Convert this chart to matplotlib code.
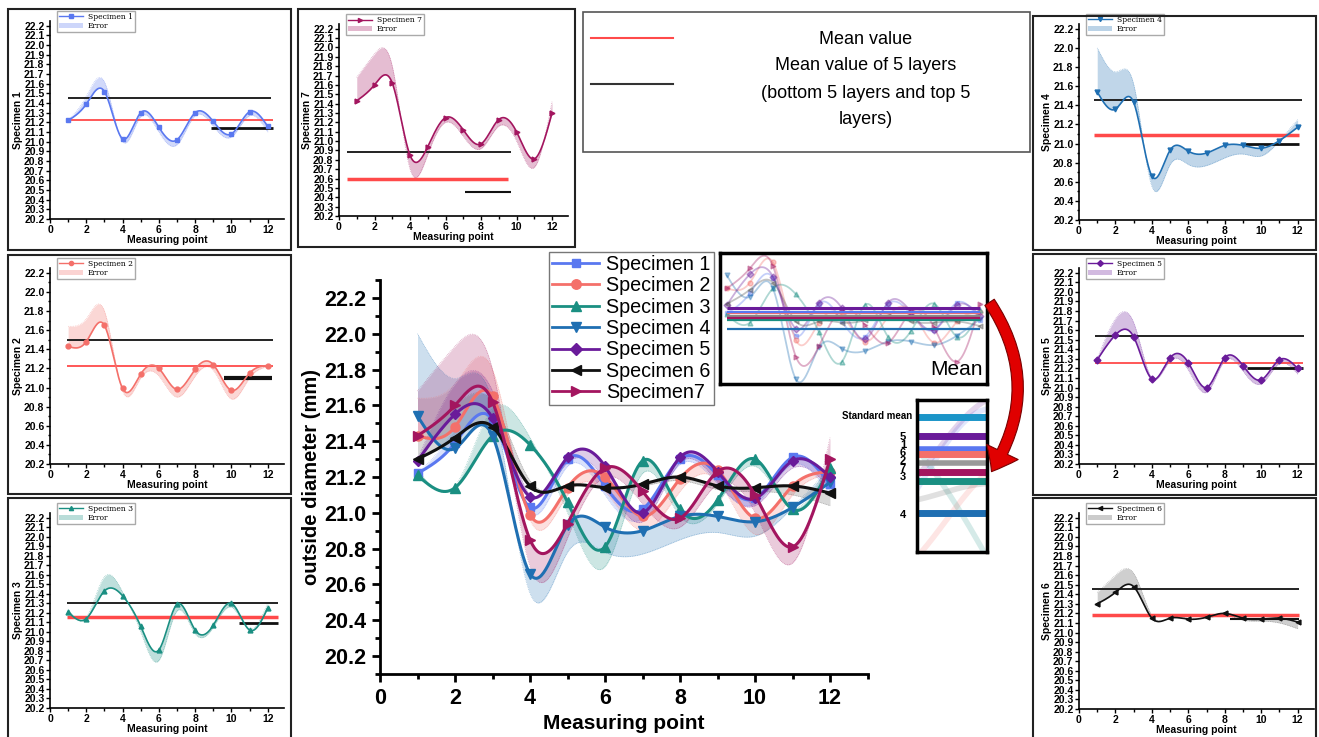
import numpy as np
import matplotlib
matplotlib.use('Agg')
import matplotlib.pyplot as plt
from matplotlib.patches import Rectangle, Patch, FancyArrowPatch
from matplotlib.lines import Line2D
from matplotlib.ticker import MultipleLocator, FormatStrFormatter

plt.rcParams['font.family'] = ['Liberation Sans', 'DejaVu Sans']
plt.rcParams['font.weight'] = 'bold'
plt.rcParams['axes.labelweight'] = 'bold'

# ---------------- data ----------------
points = list(range(1, 13))

spec1 = [21.22, 21.39, 21.52, 21.03, 21.30, 21.15, 21.02, 21.30, 21.21, 21.08, 21.31, 21.16]
spec2 = [21.43, 21.48, 21.65, 20.99, 21.14, 21.20, 20.98, 21.19, 21.24, 20.97, 21.15, 21.23]
spec3 = [21.21, 21.14, 21.43, 21.38, 21.06, 20.81, 21.29, 21.02, 21.07, 21.30, 21.02, 21.25]
spec4 = [21.54, 21.36, 21.43, 20.66, 20.93, 20.92, 20.90, 20.98, 20.98, 20.95, 21.03, 21.17]
spec5 = [21.29, 21.55, 21.53, 21.09, 21.31, 21.26, 21.00, 21.31, 21.23, 21.08, 21.29, 21.20]
spec6 = [21.30, 21.42, 21.48, 21.15, 21.15, 21.14, 21.16, 21.20, 21.15, 21.14, 21.15, 21.11]
spec7 = [21.43, 21.60, 21.62, 20.85, 20.94, 21.25, 21.12, 20.97, 21.23, 21.10, 20.81, 21.30]

# outer edge of the error band
err1 = [21.22, 21.47, 21.62, 21.00, 21.26, 21.10, 20.97, 21.27, 21.16, 21.05, 21.27, 21.10]
err2 = [21.64, 21.72, 21.80, 20.96, 21.10, 21.12, 20.90, 21.12, 21.18, 20.88, 21.10, 21.22]
err3 = [21.24, 21.15, 21.58, 21.42, 21.00, 20.70, 21.22, 20.98, 21.05, 21.26, 21.03, 21.30]
err4 = [22.00, 21.75, 21.62, 20.55, 20.78, 20.78, 20.77, 20.85, 20.89, 20.87, 21.03, 21.25]
err5 = [21.30, 21.72, 21.68, 21.10, 21.28, 21.18, 20.95, 21.28, 21.17, 21.04, 21.25, 21.14]
err6 = [21.42, 21.60, 21.62, 21.18, 21.15, 21.15, 21.15, 21.18, 21.13, 21.12, 21.10, 21.04]
err7 = [21.68, 21.93, 21.80, 20.70, 20.86, 21.20, 21.05, 20.92, 21.16, 21.00, 20.72, 21.42]

# per-panel reference lines: mean value, mean of top 5 layers, mean of bottom 5 layers
mean_value = [21.23, 21.22, 21.16, 21.09, 21.26, 21.18, 20.60]
top5_mean = [21.45, 21.50, 21.30, 21.45, 21.54, 21.45, 20.88]
bottom5_mean = [21.14, 21.10, 21.09, 20.99, 21.20, 21.14, 20.46]

# specimen means for the "Mean" inset and the standard-mean strip
overall_mean = [21.23, 21.22, 21.16, 21.09, 21.26, 21.20, 21.18]
standard_mean = 21.30

series = [spec1, spec2, spec3, spec4, spec5, spec6, spec7]
errs = [err1, err2, err3, err4, err5, err6, err7]
legend_names = ['Specimen 1', 'Specimen 2', 'Specimen 3', 'Specimen 4',
                'Specimen 5', 'Specimen 6', 'Specimen7']
panel_names = ['Specimen 1', 'Specimen 2', 'Specimen 3', 'Specimen 4',
               'Specimen 5', 'Specimen 6', 'Specimen 7']
colors = ['#5a78f0', '#f4706a', '#1a8f82', '#1f6fb2', '#6a1b9a', '#111111', '#a3155f']
band_colors = ['#5a78f0', '#f4706a', '#1a8f82', '#1f6fb2', '#6a1b9a', '#555555', '#a3155f']
markers = ['s', 'o', '^', 'v', 'D', '<', '>']
msizes = [6, 6.5, 6.5, 6.5, 5.5, 6.5, 6.5]
std_labels = ['5', '1', '6', '2', '7', '3', '4']


def spline(x, y, n=400):
    x = np.asarray(x, float)
    y = np.asarray(y, float)
    m = len(x)
    h = np.diff(x)
    A = np.zeros((m, m))
    b = np.zeros(m)
    A[0, 0] = A[-1, -1] = 1
    for i in range(1, m - 1):
        A[i, i - 1] = h[i - 1]
        A[i, i] = 2 * (h[i - 1] + h[i])
        A[i, i + 1] = h[i]
        b[i] = 6 * ((y[i + 1] - y[i]) / h[i] - (y[i] - y[i - 1]) / h[i - 1])
    M = np.linalg.solve(A, b)
    xs = np.linspace(x[0], x[-1], n)
    idx = np.clip(np.searchsorted(x, xs) - 1, 0, m - 2)
    hi = h[idx]
    t1 = x[idx + 1] - xs
    t2 = xs - x[idx]
    ys = (M[idx] * t1 ** 3 / (6 * hi) + M[idx + 1] * t2 ** 3 / (6 * hi)
          + (y[idx] / hi - M[idx] * hi / 6) * t1 + (y[idx + 1] / hi - M[idx + 1] * hi / 6) * t2)
    return xs, ys


W, H = 1319, 737
fig = plt.figure(figsize=(W / 100, H / 100), dpi=100)


def px_axes(x0, y0, x1, y1):
    return fig.add_axes([x0 / W, 1 - y1 / H, (x1 - x0) / W, (y1 - y0) / H])


def frame(x0, y0, x1, y1, lw=1.5, ec='#222222'):
    fig.add_artist(Rectangle((x0 / W, 1 - y1 / H), (x1 - x0) / W, (y1 - y0) / H,
                             transform=fig.transFigure, fill=False, lw=lw, ec=ec))


# ---------------- panel frames ----------------
frame(8, 9, 291, 250)
frame(8, 255, 291, 494)
frame(8, 498, 291, 740)
frame(298, 9, 575, 247)
frame(583, 12, 1030, 152, lw=1.2, ec='#555555')
frame(1033, 16, 1316, 250)
frame(1033, 254, 1316, 495)
frame(1033, 498, 1316, 740)

# ---------------- small panels ----------------
panels = [
    # idx, rect, ystep, red_x, blk_x, short_x, red_lw, short_lw
    (0, (50, 21, 284, 219), 0.1, (1.0, 12.3), (1.0, 12.2), (8.9, 12.3), 1.3, 2.0),
    (1, (50, 268, 284, 464), 0.2, (0.95, 12.3), (0.95, 12.3), (9.6, 12.25), 1.3, 3.0),
    (2, (50, 513, 284, 708), 0.1, (0.92, 12.55), (0.92, 12.55), (10.4, 12.55), 2.5, 2.0),
    (3, (1079, 24, 1314, 220), 0.2, (0.8, 12.05), (0.8, 12.25), (9.0, 12.05), 2.5, 2.0),
    (4, (1079, 268, 1314, 464), 0.1, (0.88, 12.3), (0.88, 12.35), (9.2, 12.3), 1.3, 2.0),
    (5, (1079, 513, 1314, 709), 0.1, (0.7, 12.1), (0.7, 12.1), (8.3, 12.1), 2.5, 1.5),
    (6, (339, 24, 568, 216), 0.1, (0.43, 9.5), (0.43, 9.7), (7.1, 9.7), 2.5, 1.5),
]

for idx, rect, ystep, red_x, blk_x, short_x, red_lw, short_lw in panels:
    ax = px_axes(*rect)
    c = colors[idx]
    bc = band_colors[idx]
    xs, ys = spline(points, series[idx])
    xb, yb = spline(points, errs[idx])
    ax.fill_between(xs, ys, yb, color=bc, alpha=0.28, lw=0)
    ax.plot(xb, yb, color=bc, lw=0.5, ls=(0, (1, 1.5)), alpha=0.5)
    ax.hlines(top5_mean[idx], *blk_x, color='#222222', lw=1.4)
    ax.hlines(bottom5_mean[idx], *short_x, color='#111111', lw=short_lw)
    ax.hlines(mean_value[idx], *red_x, color='#ff4a4a', lw=red_lw)
    ax.plot(xs, ys, color=c, lw=1.2)
    ax.plot(points, series[idx], ls='none', marker=markers[idx], ms=3.5, color=c)
    ax.set_xlim(0, 12.9)
    ax.set_ylim(20.2, 22.25)
    ax.xaxis.set_major_locator(MultipleLocator(2))
    ax.xaxis.set_minor_locator(MultipleLocator(1))
    ax.yaxis.set_major_locator(MultipleLocator(ystep))
    if ystep == 0.2:
        ax.yaxis.set_minor_locator(MultipleLocator(0.1))
    ax.yaxis.set_major_formatter(FormatStrFormatter('%.1f'))
    for s in ['top', 'right']:
        ax.spines[s].set_visible(False)
    for s in ['left', 'bottom']:
        ax.spines[s].set_linewidth(1.2)
    ax.tick_params(which='both', direction='out', width=1.0, labelsize=7.5, pad=1)
    ax.tick_params(which='major', length=3)
    ax.tick_params(which='minor', length=1.8)
    ax.set_xlabel('Measuring point', fontsize=7.5, labelpad=0)
    ax.set_ylabel(panel_names[idx], fontsize=7.5, labelpad=1)
    h1 = Line2D([], [], color=c, marker=markers[idx], ms=3, lw=1)
    h2 = Patch(facecolor=bc, alpha=0.3, edgecolor='none')
    ax.legend([h1, h2], [panel_names[idx], 'Error'], loc='upper left',
              bbox_to_anchor=(0.03, 1.05),
              prop={'family': ['DejaVu Serif'], 'size': 5.5, 'weight': 'normal'},
              frameon=True, fancybox=False, edgecolor='#aaaaaa', framealpha=1,
              borderpad=0.25, handlelength=3.2, labelspacing=0.15, handletextpad=0.6,
              borderaxespad=0)

# ---------------- main chart ----------------
axm = px_axes(380, 280, 867.5, 674)
for i in range(7):
    xs, ys = spline(points, series[i])
    xb, yb = spline(points, errs[i])
    axm.fill_between(xs, ys, yb, color=band_colors[i], alpha=0.22, lw=0)
    axm.plot(xb, yb, color=band_colors[i], lw=0.5, ls=(0, (1, 1.5)), alpha=0.5)
for i in range(7):
    xs, ys = spline(points, series[i])
    axm.plot(xs, ys, color=colors[i], lw=2.2)
    axm.plot(points, series[i], ls='none', marker=markers[i], ms=msizes[i], color=colors[i])
axm.set_xlim(0, 13)
axm.set_ylim(20.1, 22.3)
axm.set_xticks(range(0, 13, 2))
axm.xaxis.set_minor_locator(MultipleLocator(1))
axm.set_yticks(np.round(np.arange(20.2, 22.21, 0.2), 1))
axm.yaxis.set_minor_locator(MultipleLocator(0.1))
axm.yaxis.set_major_formatter(FormatStrFormatter('%.1f'))
for s in ['top', 'right']:
    axm.spines[s].set_visible(False)
for s in ['left', 'bottom']:
    axm.spines[s].set_linewidth(2)
axm.tick_params(which='both', direction='out', width=2, labelsize=15.5, pad=4)
axm.tick_params(which='major', length=6)
axm.tick_params(which='minor', length=3.5)
axm.set_xlabel('Measuring point', fontsize=15, labelpad=4)
axm.set_ylabel('outside diameter (mm)', fontsize=14.5, labelpad=2)
handles = [Line2D([], [], color=colors[i], marker=markers[i], ms=msizes[i] * 1.05, lw=2)
           for i in range(7)]
axm.legend(handles, legend_names, loc='upper left', bbox_to_anchor=(0.347, 1.071),
           prop={'size': 14.2, 'weight': 'normal'}, frameon=True, fancybox=False,
           edgecolor='#777777', framealpha=1, borderpad=0.15, handlelength=2.4,
           labelspacing=0.12, handletextpad=0.35, borderaxespad=0)

# ---------------- "Mean" inset ----------------
axi = px_axes(720, 253, 987, 384)
for i in range(7):
    xs, ys = spline(points, series[i])
    axi.plot(xs, ys, color=band_colors[i], lw=1.3, alpha=0.35)
    axi.plot(points, series[i], ls='none', marker=markers[i], ms=3.5,
             color=band_colors[i], alpha=0.4)
for i in [5, 3, 2, 6, 1, 0, 4]:
    axi.hlines(overall_mean[i], 1, 12, color=colors[i] if i != 5 else '#888888',
               lw=2.2 if i == 4 else 1.6)
axi.set_xlim(0.7, 12.3)
axi.set_ylim(20.62, 21.73)
axi.set_xticks([])
axi.set_yticks([])
for s in axi.spines.values():
    s.set_linewidth(2.5)
axi.text(0.985, 0.04, 'Mean', transform=axi.transAxes, ha='right', va='bottom',
         fontsize=15, weight='normal')

# ---------------- standard mean strip ----------------
axs = px_axes(917, 400, 987, 552)
for i in range(7):
    xs, ys = spline(points, series[i])
    axs.plot(xs, ys, color=band_colors[i], lw=4, alpha=0.18)
axs.axhline(standard_mean, color='#1b95c8', lw=5)
for i in [4, 0, 1, 5, 6, 2, 3]:
    axs.axhline(overall_mean[i], color=colors[i] if i != 5 else '#999999',
                lw=5 if i not in (0, 5) else 4)
axs.set_xlim(4.55, 5.15)
axs.set_ylim(21.005, 21.338)
axs.set_xticks([])
axs.set_yticks([])
for s in axs.spines.values():
    s.set_linewidth(2.5)
fig.text(912 / W, 1 - 416 / H, 'Standard mean', ha='right', va='center', fontsize=7)
label_y = [437, 445, 453, 461, 469, 477, 515]
for lab, yy in zip(std_labels, label_y):
    fig.text(903 / W, 1 - yy / H, lab, ha='center', va='center', fontsize=8)

# red curved arrow
arrow = FancyArrowPatch((988 / W, 1 - 300 / H), (990 / W, 1 - 474 / H),
                        transform=fig.transFigure, connectionstyle='arc3,rad=-0.33',
                        arrowstyle='simple,head_width=1.4,head_length=0.9,tail_width=0.45',
                        mutation_scale=18, facecolor='#e00000', edgecolor='#7a0000', lw=0.8)
fig.add_artist(arrow)

# ---------------- top legend box ----------------
fig.add_artist(Line2D([591 / W, 673 / W], [1 - 38 / H, 1 - 38 / H], transform=fig.transFigure,
                      color='#ff4a4a', lw=1.5))
fig.add_artist(Line2D([591 / W, 673 / W], [1 - 84 / H, 1 - 84 / H], transform=fig.transFigure,
                      color='#333333', lw=1.5))
for txt, yy in [('Mean value', 39), ('Mean value of 5 layers', 66),
                ('(bottom 5 layers and top 5', 93), ('layers)', 119)]:
    fig.text(866 / W, 1 - yy / H, txt, ha='center', va='center', fontsize=13, weight='normal')

fig.savefig('out.png', dpi=100)
